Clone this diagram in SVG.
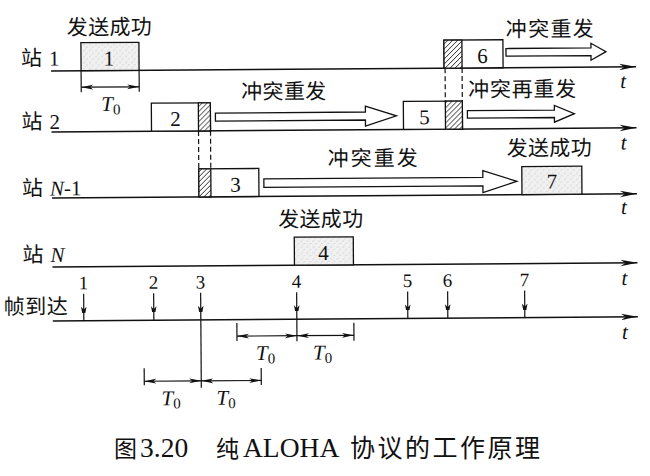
<svg xmlns="http://www.w3.org/2000/svg" width="650" height="476" viewBox="0 0 650 476">
<style>
.axis{stroke:#111;stroke-width:1.5;fill:none;marker-end:url(#ax)}
.box{fill:#fff;stroke:#111;stroke-width:1.3}
.stip{fill:url(#stip);stroke:#111;stroke-width:1.3}
.hatch{fill:url(#hatch);stroke:#111;stroke-width:1.3}
.hollow{fill:#fff;stroke:#111;stroke-width:1.3;stroke-linejoin:miter}
.dash{stroke:#111;stroke-width:1.2;stroke-dasharray:5 3;fill:none}
.tick{stroke:#111;stroke-width:1.2;fill:none}
.dim{stroke:#111;stroke-width:1.2;fill:none;marker-start:url(#dm);marker-end:url(#dm)}
.arr{stroke:#111;stroke-width:1.2;fill:none;marker-end:url(#av)}
.cn{font-family:"Noto Sans CJK SC","Noto Sans",sans-serif;font-size:21px;fill:#111}
.num{font-family:"Liberation Serif","DejaVu Serif",serif;font-size:21px;fill:#111}
.sm{font-size:19px}
.sub{font-size:15px;font-style:normal}
.capcn{font-size:23px}
.capnum{font-size:27.5px}
.it{font-style:italic}
.mid{text-anchor:middle}
</style>
<defs>
<marker id="ax" markerUnits="userSpaceOnUse" markerWidth="18" markerHeight="8" refX="17" refY="4" orient="auto"><path d="M0,0.8 L17,4 L0,7.2 L5,4 Z" fill="#111"/></marker>
<marker id="dm" markerUnits="userSpaceOnUse" markerWidth="13" markerHeight="6" refX="12" refY="3" orient="auto-start-reverse"><path d="M0,0.6 L12,3 L0,5.4 L3,3 Z" fill="#111"/></marker>
<marker id="av" markerUnits="userSpaceOnUse" markerWidth="6" markerHeight="15" refX="14" refY="2.8" orient="auto"><path d="M0,0 L14,2.8 L0,5.6 L3,2.8 Z" fill="#111"/></marker>
<pattern id="hatch" patternUnits="userSpaceOnUse" width="5" height="5"><rect width="5" height="5" fill="#fff"/><path d="M-1,1 L1,-1 M0,5 L5,0 M4,6 L6,4" stroke="#111" stroke-width="0.9"/></pattern>
<pattern id="stip" patternUnits="userSpaceOnUse" width="6" height="6"><rect width="6" height="6" fill="#f1f1f1"/><circle cx="1" cy="1" r="0.55" fill="#aaa"/><circle cx="4" cy="3.5" r="0.55" fill="#b8b8b8"/><circle cx="2.5" cy="5" r="0.45" fill="#c4c4c4"/></pattern>
</defs>
<rect width="650" height="476" fill="#fff"/>
<g transform="rotate(-0.4 325 200)">
<g id="stations">
<g id="station-1">
<text class="cn" x="22" y="63.5">站</text><text class="num" x="50" y="63.5">1</text>
<line class="axis" x1="52" y1="69" x2="637" y2="69"/>
<text class="num it" x="621" y="90">t</text>
</g>
<g id="station-2">
<text class="cn" x="22" y="127">站</text><text class="num" x="50" y="127">2</text>
<line class="axis" x1="52" y1="130" x2="637" y2="130"/>
<text class="num it" x="621" y="151.5">t</text>
</g>
<g id="station-n1">
<text class="cn" x="22" y="193.5">站</text><text class="num" x="50" y="193.5"><tspan class="it">N</tspan>-1</text>
<line class="axis" x1="52" y1="196" x2="637" y2="196"/>
<text class="num it" x="621" y="216">t</text>
</g>
<g id="station-n">
<text class="cn" x="22" y="260">站</text><text class="num it" x="50" y="260">N</text>
<line class="axis" x1="52" y1="265" x2="637" y2="265"/>
<text class="num it" x="621" y="287">t</text>
</g>
<g id="arrivals">
<text class="cn" x="3" y="312" textLength="64">帧到达</text>
<line class="axis" x1="52" y1="319" x2="637" y2="319"/>
<text class="num it" x="621" y="341">t</text>
</g>
</g>

<g id="frame-1">
<text class="cn mid" x="110.5" y="33" textLength="85">发送成功</text>
<rect class="stip" x="82" y="41" width="58" height="28"/>
<text class="num mid" x="110" y="64">1</text>
<line class="tick" x1="82" y1="69" x2="82" y2="90.5"/>
<line class="tick" x1="140" y1="69" x2="140" y2="90.5"/>
<line class="dim" x1="82" y1="85.5" x2="140" y2="85.5"/>
<text class="num it" x="102" y="109.5">T<tspan class="sub" dy="3.5">0</tspan></text>
</g>
<g id="frame-2">
<rect class="box" x="152" y="102" width="59" height="28"/>
<rect class="hatch" x="199" y="102" width="12" height="28"/>
<text class="num mid" x="176" y="125">2</text>
</g>
<g id="frame-3">
<rect class="box" x="199" y="168" width="60" height="28"/>
<rect class="hatch" x="199" y="168" width="12" height="28"/>
<text class="num mid" x="235.5" y="191">3</text>
</g>
<g id="frame-4">
<text class="cn mid" x="320.5" y="226.5" textLength="85">发送成功</text>
<rect class="stip" x="294" y="237" width="59" height="28"/>
<text class="num mid" x="323" y="260">4</text>
</g>
<g id="frame-5">
<rect class="box" x="404" y="102" width="59" height="28"/>
<rect class="hatch" x="446" y="102" width="17" height="28"/>
<text class="num mid" x="425" y="125">5</text>
</g>
<g id="frame-6">
<rect class="box" x="445" y="41" width="59" height="28"/>
<rect class="hatch" x="445" y="41" width="18" height="28"/>
<text class="num mid" x="483.5" y="64">6</text>
</g>
<g id="frame-7">
<text class="cn mid" x="549.5" y="157" textLength="85">发送成功</text>
<rect class="stip" x="522" y="168" width="60" height="28"/>
<text class="num mid" x="552" y="190">7</text>
</g>

<g id="connectors">
<line class="dash" x1="199" y1="130" x2="199" y2="168"/>
<line class="dash" x1="211" y1="130" x2="211" y2="168"/>
<line class="dash" x1="446" y1="69" x2="446" y2="102"/>
<line class="dash" x1="463" y1="69" x2="463" y2="102"/>
<path class="hollow" d="M507,49.8 H592 V45.1 L607,53.6 L592,62.1 V57.4 H507 Z"/>
<text class="cn mid" x="551" y="38" textLength="88">冲突重发</text>
<path class="hollow" d="M216,112.3 H366 V106.3 L397,116.3 L366,126.3 V120.3 H216 Z"/>
<text class="cn mid" x="284.5" y="98.5" textLength="85">冲突重发</text>
<path class="hollow" d="M468,111.7 H555 V107 L575,115.4 L555,123.8 V119.1 H468 Z"/>
<text class="cn mid" x="523" y="98" textLength="108">冲突再重发</text>
<path class="hollow" d="M264,178.4 H483 V171.7 L517,182.7 L483,193.7 V187 H264 Z"/>
<text class="cn mid" x="373" y="166" textLength="90">冲突重发</text>
</g>

<g id="arrival-marks">
<text class="num sm mid" x="83" y="287.5">1</text>
<line class="arr" x1="83" y1="292" x2="83" y2="319"/>
<text class="num sm mid" x="153" y="287.5">2</text>
<line class="arr" x1="153" y1="292" x2="153" y2="319"/>
<text class="num sm mid" x="200" y="287.5">3</text>
<line class="arr" x1="200" y1="292" x2="200" y2="319"/>
<text class="num sm mid" x="296" y="287.5">4</text>
<line class="arr" x1="296" y1="292" x2="296" y2="319"/>
<text class="num sm mid" x="407" y="287.5">5</text>
<line class="arr" x1="407" y1="292" x2="407" y2="319"/>
<text class="num sm mid" x="447" y="287.5">6</text>
<line class="arr" x1="447" y1="292" x2="447" y2="319"/>
<text class="num sm mid" x="524" y="287.5">7</text>
<line class="arr" x1="524" y1="292" x2="524" y2="319"/>
</g>

<g id="dimensions">
<line class="tick" x1="200" y1="319" x2="200" y2="387"/>
<line class="tick" x1="296" y1="319" x2="296" y2="341"/>
<line class="tick" x1="236" y1="322.5" x2="236" y2="340.5"/>
<line class="tick" x1="353" y1="323" x2="353" y2="341"/>
<line class="dim" x1="236" y1="335.5" x2="296" y2="335.5"/>
<line class="dim" x1="296" y1="335.5" x2="353" y2="335.5"/>
<text class="num it" x="255" y="359.5">T<tspan class="sub" dy="3.5">0</tspan></text>
<text class="num it" x="312" y="359.5">T<tspan class="sub" dy="3.5">0</tspan></text>
<line class="tick" x1="143" y1="367" x2="143" y2="384"/>
<line class="tick" x1="260" y1="367.5" x2="260" y2="384.5"/>
<line class="dim" x1="143" y1="380" x2="200" y2="380"/>
<line class="dim" x1="200" y1="380" x2="260" y2="380"/>
<text class="num it" x="160" y="404">T<tspan class="sub" dy="3.5">0</tspan></text>
<text class="num it" x="215" y="404">T<tspan class="sub" dy="3.5">0</tspan></text>
</g>
</g>

<g id="caption">
<text class="cn capcn" x="114" y="457">图</text>
<text class="num capnum" x="140" y="457">3.20</text>
<text class="cn capcn" x="216" y="457">纯</text>
<text class="num capnum" x="243" y="457">ALOHA</text>
<text class="cn" x="350" y="457" style="font-size:25px" textLength="190">协议的工作原理</text>
</g>
</svg>
